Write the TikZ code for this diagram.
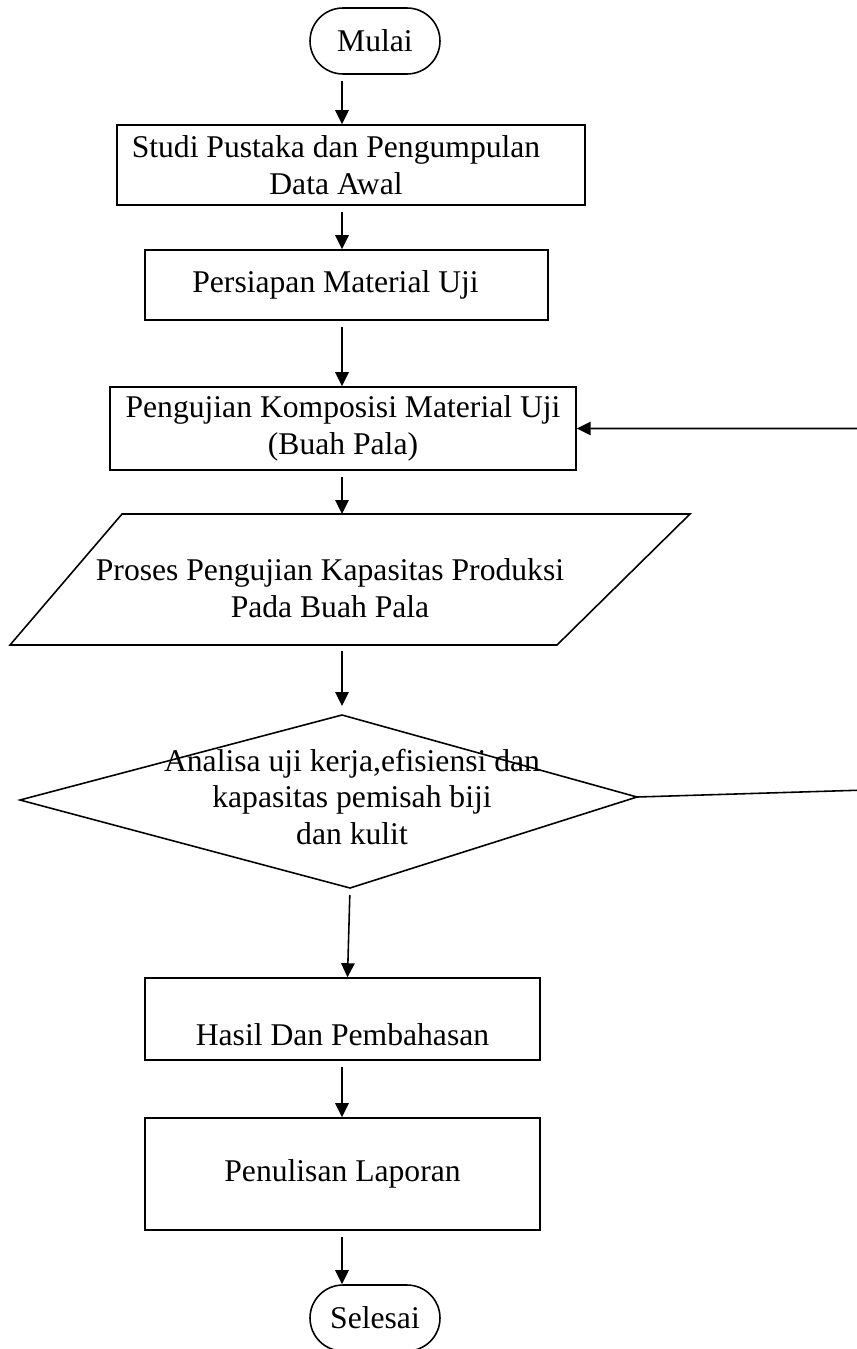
\documentclass[tikz,border=0pt]{standalone}
\usepackage{fontspec}
\setmainfont{Liberation Serif}
\usetikzlibrary{arrows.meta}

\begin{document}
\begin{tikzpicture}[x=0.02cm,y=-0.02cm,line width=0.9pt,
  every node/.style={font=\fontsize{18}{21}\selectfont},
  box/.style={draw,minimum width=7.9cm,minimum height=1.64cm,align=center,inner sep=2pt},
  term/.style={draw,rounded corners=0.66cm,minimum width=2.6cm,minimum height=1.32cm},
  txt/.style={align=center,inner sep=0pt},
  arr/.style={-{Triangle[length=0.28cm,width=0.27cm]},shorten <=0.12cm}]

  \useasboundingbox (0,0) rectangle (857,1349);

  \node[term] (start) at (375,41) {Mulai};
  \node[box,minimum width=9.36cm,minimum height=1.6cm] (study) at (351,165)
    {Studi Pustaka dan Pengumpulan\hspace*{0.6cm}\\Data Awal\hspace*{0.6cm}};
  \node[box,minimum width=8.06cm,minimum height=1.4cm] (prep) at (346.5,285)
    {Persiapan Material Uji\hspace*{0.44cm}};
  \node[box,minimum width=9.32cm,minimum height=1.66cm] (comp) at (343,428.5)
    {Pengujian Komposisi Material Uji\\(Buah Pala)};

  \coordinate (ptop) at (342,514);
  \coordinate (pbot) at (342,645);
  \draw (122,514) -- (690,514) -- (557,645) -- (10,645) -- cycle;
  \node[txt] (proc) at (330,588)
    {Proses Pengujian Kapasitas Produksi\\Pada Buah Pala};

  \coordinate (dtop)   at (342,715);
  \coordinate (dright) at (637,797);
  \coordinate (dbot)   at (350,888);
  \coordinate (dleft)  at (20,800);
  \draw (dtop) -- (dright) -- (dbot) -- (dleft) -- cycle;
  \node[txt] (anl) at (352,797)
    {Analisa uji kerja,efisiensi dan\\kapasitas pemisah biji\\dan kulit};

  \node[box,text height=1.04cm,text depth=0pt] (hasil) at (342.5,1019)
    {Hasil Dan Pembahasan};
  \node[box,minimum height=2.24cm] (lapor) at (342.5,1174) {Penulisan Laporan};
  \node[term] (stop) at (375,1318) {Selesai};

  \coordinate (axis) at (342,0);
  \coordinate (fb) at (866,790);

  \draw[arr] (start.south -| axis) -- (study.north -| axis);
  \draw[arr] (study.south -| axis) -- (prep.north -| axis);
  \draw[arr] (prep.south -| axis) -- (comp.north -| axis);
  \draw[arr] (comp.south -| axis) -- (ptop);
  \draw[arr,shorten >=0.18cm] (pbot) -- (dtop);
  \draw[arr,shorten <=0.14cm] (dbot) -- ([xshift=0.1cm]hasil.north);
  \draw[arr] (hasil.south -| axis) -- (lapor.north -| axis);
  \draw[arr] (lapor.south -| axis) -- (stop.north -| axis);
  \draw[arr,shorten <=0pt] (dright) -- (fb) |- (comp.east);

\end{tikzpicture}
\end{document}
